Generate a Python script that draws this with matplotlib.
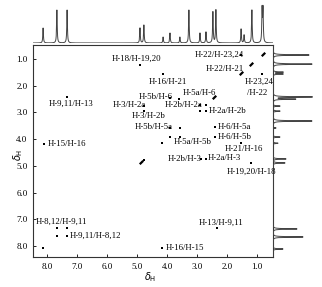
import numpy as np
import matplotlib.pyplot as plt

# 1D projections (ppm, height in px)
top_ppm = [8.13, 7.67, 7.33, 4.90, 4.77, 4.13, 3.90, 3.57, 3.27, 2.90, 2.70, 2.47, 2.37, 1.53, 1.43, 1.17, 0.83, 0.80]
top_int = [15, 33, 33, 15, 18, 6, 10, 6, 33, 10, 11, 31, 33, 14, 8, 33, 33, 33]
side_ppm = [0.85, 1.19, 1.49, 1.56, 2.42, 2.50, 2.76, 2.95, 3.32, 3.58, 3.92, 4.15, 4.74, 4.89, 7.36, 7.66, 8.11]
side_int = [36, 39, 10, 10, 39, 22, 7, 7, 39, 3, 7, 5, 13, 12, 24, 30, 10]

# cross peaks (F2, F1)
cross_x = [4.90, 1.20, 4.13, 1.53, 3.90, 3.60, 4.77, 4.77, 2.90, 2.70, 2.90, 2.70, 1.53, 0.83,
           3.90, 3.57, 3.90, 3.57, 2.40, 2.40, 2.87, 2.70, 4.77, 7.33, 2.33, 8.10, 4.17,
           7.67, 7.33, 7.67, 7.33, 8.13, 4.17]
cross_y = [1.22, 4.89, 1.56, 4.15, 2.46, 2.50, 2.76, 2.95, 2.72, 2.72, 2.95, 2.95, 0.85, 1.56,
           3.58, 3.58, 3.92, 3.92, 3.55, 3.92, 4.74, 4.74, 4.78, 2.42, 7.33, 4.18, 8.08,
           7.33, 7.33, 7.63, 7.63, 8.08, 4.15]
diag_ppm = [0.80, 1.20, 1.52, 2.44, 4.87]

labels = ["H-18/H-19,20", "H-16/H-21", "H-5b/H-6", "H-5a/H-6", "H-3/H-2a", "H-3/H-2b",
          "H-2b/H-2a", "H-2a/H-2b", "H-22/H-23,24", "H-22/H-21", "H-23,24", "/H-22",
          "H-5b/H-5a", "H-5a/H-5b", "H-6/H-5a", "H-6/H-5b", "H-21/H-16", "H-2b/H-3",
          "H-2a/H-3", "H-19,20/H-18", "H-9,11/H-13", "H-15/H-16", "H-8,12/H-9,11",
          "H-9,11/H-8,12", "H-16/H-15", "H-13/H-9,11"]
label_x = [5.83, 4.60, 4.93, 3.47, 5.80, 5.17, 4.07, 2.60, 3.07, 2.70, 1.40, 1.33,
           5.07, 3.77, 2.30, 2.30, 2.07, 3.97, 2.63, 2.00, 7.93, 7.97, 8.37, 7.23, 4.03, 2.93]
label_y = [1.00, 1.86, 2.42, 2.27, 2.72, 3.13, 2.72, 2.95, 0.85, 1.37, 1.86, 2.27,
           3.55, 4.11, 3.55, 3.92, 4.37, 4.74, 4.71, 5.23, 2.69, 4.18, 7.10, 7.63, 8.08, 7.14]

xlim = (8.467, 0.467)
ylim = (8.41, 0.476)

grid = np.linspace(0.2, 8.7, 9000)


def trace(ppm, h, w=0.012):
    s = np.zeros_like(grid)
    for p, a in zip(ppm, h):
        s += a / (1 + ((grid - p) / w) ** 2)
    return s


fig = plt.figure(figsize=(3.22, 2.87), dpi=100)
ax = fig.add_axes([33/322, 1 - 257/287, 240/322, 212/287])
axt = fig.add_axes([33/322, 1 - 43/287, 240/322, 40/287])
axr = fig.add_axes([273/322, 1 - 257/287, 47/322, 212/287])

serif = 'Liberation Serif'

# main 2D panel
ax.scatter(cross_x, cross_y, s=3, marker='s', color='black', linewidths=0)
ax.plot(diag_ppm, diag_ppm, ls='none', marker=[(-1, -1), (1, 1)], ms=2.5, mew=1.6, color='black')
for t, x, y in zip(labels, label_x, label_y):
    ax.text(x, y, t, fontsize=6.3, family=serif, ha='left', va='center')

ax.set_xlim(xlim)
ax.set_ylim(ylim)
ax.set_xticks([8, 7, 6, 5, 4, 3, 2, 1])
ax.set_yticks([1, 2, 3, 4, 5, 6, 7, 8])
ax.xaxis.set_major_formatter('{x:.1f}')
ax.yaxis.set_major_formatter('{x:.1f}')
ax.tick_params(length=2, width=0.6, direction='in', labelsize=6.5, pad=4)
for lab in ax.get_xticklabels() + ax.get_yticklabels():
    lab.set_family(serif)
for sp in ax.spines.values():
    sp.set_linewidth(0.8)
    sp.set_color('#333333')
ax.set_xlabel(r'$\delta_{\rm H}$', fontsize=7)
ax.set_ylabel(r'$\delta_{\rm H}$', fontsize=7)
ax.xaxis.set_label_coords(0.49, -0.06)
ax.yaxis.set_label_coords(-0.035, 0.48)

# top projection
axt.plot(grid, trace(top_ppm, top_int), color='#444444', lw=0.7)
axt.set_xlim(xlim)
axt.set_ylim(0, 40)
axt.axis('off')

# side projection
axr.plot(trace(side_ppm, side_int), grid, color='#444444', lw=0.7)
axr.set_ylim(ylim)
axr.set_xlim(0, 47)
axr.axis('off')

fig.savefig('out.png', dpi=100)
